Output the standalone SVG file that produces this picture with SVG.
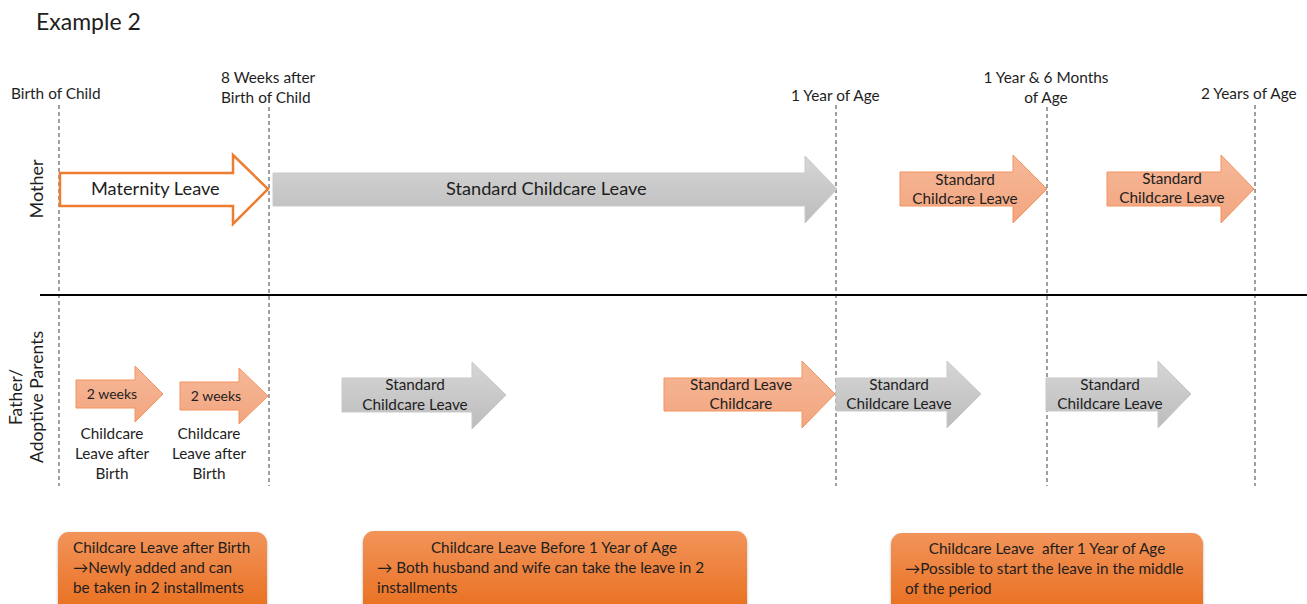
<svg xmlns="http://www.w3.org/2000/svg" width="1307" height="604" viewBox="0 0 1307 604">
<defs>
<linearGradient id="gGray" x1="0" y1="0" x2="0" y2="1">
<stop offset="0" stop-color="#d6d6d6"/><stop offset="1" stop-color="#bcbcbc"/>
</linearGradient>
<linearGradient id="gOr" x1="0" y1="0" x2="0" y2="1">
<stop offset="0" stop-color="#f6b898"/><stop offset="1" stop-color="#f2a57f"/>
</linearGradient>
<linearGradient id="gBox" x1="0" y1="0" x2="0" y2="1">
<stop offset="0" stop-color="#f2945a"/><stop offset="1" stop-color="#e86d1c"/>
</linearGradient>
<filter id="sh" x="-5%" y="-10%" width="110%" height="130%">
<feDropShadow dx="0" dy="1.5" stdDeviation="1.5" flood-color="#000" flood-opacity="0.3"/>
</filter>
</defs>
<style>
text{font-family:Lato,"Liberation Sans",sans-serif;fill:#1e1e1e}
.lbl{font-size:15.4px}
.ar{font-size:15.3px;text-anchor:middle}
.big{font-size:18.2px}
.dash{stroke:#404040;stroke-width:1;stroke-dasharray:4 3;fill:none}
.gray{fill:url(#gGray);stroke:#c9c9c9;stroke-width:1}
.or{fill:url(#gOr);stroke:#f3945e;stroke-width:1}
.box{fill:url(#gBox);filter:url(#sh)}
.bt{font-size:15.3px;white-space:pre}
.wk{font-size:14px}
</style>
<rect width="1307" height="604" fill="#ffffff"/>
<text x="36" y="30" style="font-size:23px">Example 2</text>

<g id="timeline-labels">
<text class="lbl" x="11" y="99">Birth of Child</text>
<text class="lbl" x="221" y="83">8 Weeks after</text>
<text class="lbl" x="221" y="103">Birth of Child</text>
<text class="lbl" x="791" y="101">1 Year of Age</text>
<text class="lbl" x="1046" y="83" text-anchor="middle">1 Year &amp; 6 Months</text>
<text class="lbl" x="1046" y="103" text-anchor="middle">of Age</text>
<text class="lbl" x="1201" y="99">2 Years of Age</text>
</g>

<g id="connectors">
<line class="dash" x1="59" y1="105" x2="59" y2="486"/>
<line class="dash" x1="269" y1="107" x2="269" y2="486"/>
<line class="dash" x1="836" y1="105" x2="836" y2="486"/>
<line class="dash" x1="1047" y1="107" x2="1047" y2="486"/>
<line class="dash" x1="1255" y1="105" x2="1255" y2="486"/>
<line x1="40" y1="295" x2="1307" y2="295" stroke="#000" stroke-width="2"/>
</g>

<g id="row-labels">
<text x="43" y="189" transform="rotate(-90 43 189)" text-anchor="middle" style="font-size:18px">Mother</text>
<text x="22" y="397" transform="rotate(-90 22 397)" text-anchor="middle" style="font-size:17.5px">Father/</text>
<text x="43" y="397" transform="rotate(-90 43 397)" text-anchor="middle" style="font-size:17.5px">Adoptive Parents</text>
</g>

<g id="maternity-leave">
<path d="M60,173 H233 V155 L268,189 L233,224 V206 H60 Z" fill="#fff" stroke="#ed7d31" stroke-width="2.5"/>
<text class="big" x="91" y="195">Maternity Leave</text>
</g>
<g id="mother-standard">
<path class="gray" d="M273,173 H805 V156 L837,189 L805,223 V206 H273 Z"/>
<text class="big" x="446" y="195">Standard Childcare Leave</text>
</g>
<g id="mother-standard-2">
<path class="or" d="M900,172 H1013 V155 L1047,189 L1013,223 V206 H900 Z"/>
<text class="ar" x="965" y="185">Standard</text>
<text class="ar" x="965" y="204">Childcare Leave</text>
</g>
<g id="mother-standard-3">
<path class="or" d="M1107,172 H1221 V155 L1254,189 L1221,223 V206 H1107 Z"/>
<text class="ar" x="1172" y="184">Standard</text>
<text class="ar" x="1172" y="203">Childcare Leave</text>
</g>

<g id="father-2weeks-1">
<path class="or" d="M76,380 H135 V366 L163,394 L135,422 V408 H76 Z"/>
<text class="ar wk" x="112" y="399">2 weeks</text>
<text class="ar" x="112" y="439">Childcare</text>
<text class="ar" x="112" y="459">Leave after</text>
<text class="ar" x="112" y="479">Birth</text>
</g>
<g id="father-2weeks-2">
<path class="or" d="M180,382 H239 V368 L268,396 L239,424 V410 H180 Z"/>
<text class="ar wk" x="216" y="401">2 weeks</text>
<text class="ar" x="209" y="439">Childcare</text>
<text class="ar" x="209" y="459">Leave after</text>
<text class="ar" x="209" y="479">Birth</text>
</g>
<g id="father-standard-1">
<path class="gray" d="M342,378 H472 V362 L506,395 L472,429 V412 H342 Z"/>
<text class="ar" x="415" y="390">Standard</text>
<text class="ar" x="415" y="410">Childcare Leave</text>
</g>
<g id="father-standard-2">
<path class="or" d="M664,378 H802 V361 L835,394 L802,428 V411 H664 Z"/>
<text class="ar" x="741" y="390">Standard Leave</text>
<text class="ar" x="741" y="409">Childcare</text>
</g>
<g id="father-standard-3">
<path class="gray" d="M836,378 H947 V361 L981,394 L947,428 V411 H836 Z"/>
<text class="ar" x="899" y="390">Standard</text>
<text class="ar" x="899" y="409">Childcare Leave</text>
</g>
<g id="father-standard-4">
<path class="gray" d="M1046,378 H1158 V361 L1191,394 L1158,428 V411 H1046 Z"/>
<text class="ar" x="1110" y="390">Standard</text>
<text class="ar" x="1110" y="409">Childcare Leave</text>
</g>

<g id="note-1">
<rect class="box" x="58" y="532" width="209" height="84" rx="11"/>
<text class="bt" x="73" y="553">Childcare Leave after Birth</text>
<text class="bt" x="73" y="573">→Newly added and can</text>
<text class="bt" x="73" y="593">be taken in 2 installments</text>
</g>
<g id="note-2">
<rect class="box" x="363" y="531" width="384" height="85" rx="11"/>
<text class="bt" x="554" y="553" text-anchor="middle">Childcare Leave Before 1 Year of Age</text>
<text class="bt" x="377" y="573">→ Both husband and wife can take the leave in 2</text>
<text class="bt" x="377" y="593">installments</text>
</g>
<g id="note-3">
<rect class="box" x="891" y="533" width="312" height="83" rx="11"/>
<text class="bt" x="1047" y="554" text-anchor="middle">Childcare Leave  after 1 Year of Age</text>
<text class="bt" x="905" y="574">→Possible to start the leave in the middle</text>
<text class="bt" x="905" y="594">of the period</text>
</g>
</svg>
